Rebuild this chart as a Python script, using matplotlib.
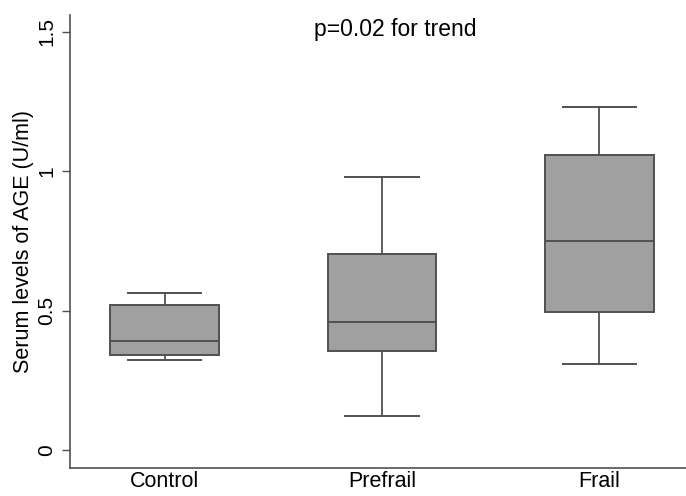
import matplotlib
matplotlib.use("Agg")
import matplotlib.pyplot as plt

plt.rcParams['font.family'] = ['Liberation Sans', 'DejaVu Sans']

categories = ["Control", "Prefrail", "Frail"]
whislo = [0.322, 0.121, 0.310]
q1 = [0.342, 0.355, 0.495]
med = [0.390, 0.460, 0.749]
q3 = [0.520, 0.702, 1.060]
whishi = [0.562, 0.981, 1.232]
yticks = [0, 0.5, 1, 1.5]
ytick_labels = ["0", "0.5", "1", "1.5"]

fig = plt.figure(figsize=(6.86, 4.96), dpi=100)
ax = fig.add_axes([70/686, 1-468/496, 1-70/686, (468-15)/496])

stats = []
for i, c in enumerate(categories):
    stats.append(dict(label=c, whislo=whislo[i], q1=q1[i], med=med[i],
                      q3=q3[i], whishi=whishi[i], fliers=[]))

edge = "#505050"
ax.bxp(stats, positions=[1, 2, 3], widths=0.5, patch_artist=True,
       showfliers=False,
       boxprops=dict(facecolor="#a0a0a0", edgecolor=edge, linewidth=1.4),
       medianprops=dict(color=edge, linewidth=1.4),
       whiskerprops=dict(color=edge, linewidth=1.3),
       capprops=dict(color=edge, linewidth=1.4),
       capwidths=0.336)

ax.set_xlim(1 - 94.5/217, 3 + 86.5/217)
ax.set_ylim(-(468-450)/278.7, (450-15)/278.7)
ax.set_yticks(yticks)
ax.set_yticklabels(ytick_labels, rotation=90, va="center", fontsize=15)
ax.set_xticks([1, 2, 3])
ax.set_xticklabels(categories, fontsize=15.5)
ax.tick_params(axis="x", length=0, pad=2.5)
ax.tick_params(axis="y", length=6, width=1, color="#505050", pad=4)
ax.spines["top"].set_visible(False)
ax.spines["right"].set_visible(False)
for s in ["left", "bottom"]:
    ax.spines[s].set_color("#505050")
    ax.spines[s].set_linewidth(1.2)
ax.set_ylabel("Serum levels of AGE (U/ml)", fontsize=15.5, labelpad=2)
ax.text(2.06, 1.51, "p=0.02 for trend", ha="center", va="center", fontsize=16.5)

fig.savefig("out.png", dpi=100)
